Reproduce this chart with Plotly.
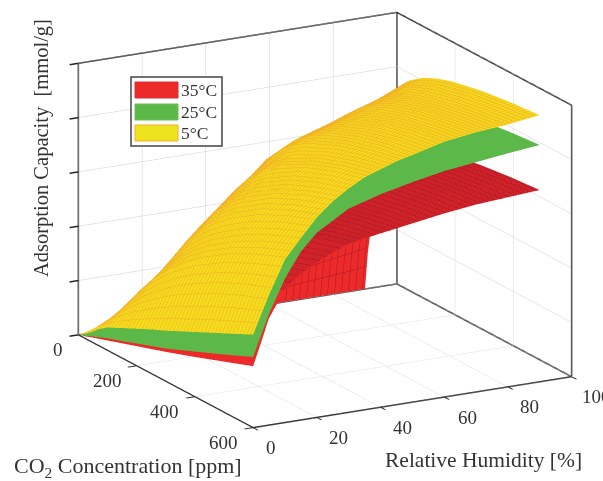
import plotly.graph_objects as go

co2 = [0, 10, 25, 50, 100, 150, 200, 300, 400, 500, 600]
rh = [0, 5, 10, 15, 20, 30, 40, 50, 60, 70, 80, 90]
co2_5c = [0, 10, 25, 50, 75, 100, 150, 200, 250, 300, 400, 500, 600]
rh_5c = [0, 5, 10, 15, 20, 25, 30, 35, 40, 45, 50, 60, 70, 80, 90]

q_5c = [
 [0, .05, .12, .24, .32, .42, .55, .68, .81, .93, 1.19, 1.45, 1.71],
 [0, .082, .20, .383, .552, .708, .986, 1.227, 1.438, 1.624, 1.937, 2.19, 2.4],
 [0, .122, .294, .556, .789, 1.0, 1.364, 1.667, 1.923, 2.143, 2.5, 2.778, 3.0],
 [0, .153, .365, .683, .961, 1.207, 1.622, 1.959, 2.237, 2.471, 2.844, 3.127, 3.35],
 [0, .2, .474, .868, 1.202, 1.488, 1.954, 2.316, 2.605, 2.843, 3.207, 3.474, 3.68],
 [0, .245, .574, 1.034, 1.412, 1.729, 2.228, 2.604, 2.897, 3.132, 3.486, 3.739, 3.93],
 [0, .294, .678, 1.202, 1.618, 1.958, 2.478, 2.858, 3.147, 3.375, 3.71, 3.946, 4.12],
 [0, .36, .82, 1.41, 1.86, 2.21, 2.74, 3.12, 3.4, 3.61, 3.92, 4.13, 4.28],
 [0, .418, .932, 1.582, 2.06, 2.428, 2.955, 3.314, 3.575, 3.774, 4.054, 4.244, 4.38],
 [0, .52, 1.13, 1.85, 2.35, 2.72, 3.22, 3.55, 3.79, 3.96, 4.2, 4.36, 4.48],
 [0, .59, 1.26, 2.02, 2.53, 2.89, 3.38, 3.7, 3.92, 4.08, 4.3, 4.45, 4.55],
 [0, .656, 1.381, 2.187, 2.714, 3.087, 3.578, 3.887, 4.1, 4.255, 4.467, 4.604, 4.7],
 [0, .803, 1.631, 2.485, 3.01, 3.367, 3.818, 4.092, 4.277, 4.41, 4.587, 4.701, 4.78],
 [0, .96, 1.878, 2.757, 3.267, 3.6, 4.008, 4.249, 4.408, 4.521, 4.67, 4.765, 4.83],
 [0, 1.231, 2.268, 3.154, 3.625, 3.918, 4.263, 4.459, 4.585, 4.673, 4.789, 4.861, 4.91],
]
q_25c = [
 [0, .02, .05, .11, .22, .31, .41, .6, .83, 1.06, 1.3],
 [0, .066, .16, .309, .576, .808, 1.013, 1.356, 1.632, 1.86, 2.05],
 [0, .10, .241, .459, .836, 1.151, 1.419, 1.848, 2.178, 2.439, 2.65],
 [0, .13, .312, .589, 1.055, 1.433, 1.746, 2.234, 2.596, 2.877, 3.1],
 [0, .168, .40, .742, 1.293, 1.719, 2.058, 2.564, 2.923, 3.192, 3.4],
 [0, .242, .565, 1.014, 1.684, 2.16, 2.516, 3.012, 3.341, 3.575, 3.75],
 [0, .374, .834, 1.415, 2.173, 2.644, 2.966, 3.377, 3.628, 3.798, 3.92],
 [0, .482, 1.043, 1.702, 2.489, 2.943, 3.238, 3.598, 3.811, 3.95, 4.05],
 [0, .63, 1.306, 2.034, 2.82, 3.237, 3.496, 3.799, 3.971, 4.083, 4.16],
 [0, .741, 1.493, 2.253, 3.024, 3.414, 3.649, 3.918, 4.068, 4.164, 4.23],
 [0, .855, 1.672, 2.455, 3.205, 3.568, 3.783, 4.025, 4.158, 4.242, 4.3],
 [0, .985, 1.866, 2.66, 3.379, 3.713, 3.906, 4.121, 4.237, 4.31, 4.36],
]
q_35c = [
 [0, .02, .04, .09, .18, .27, .36, .54, .73, .93, 1.13],
 [0, .059, .144, .278, .524, .742, .936, 1.269, 1.544, 1.774, 1.97],
 [0, .085, .206, .395, .727, 1.012, 1.258, 1.663, 1.981, 2.238, 2.45],
 [0, .103, .248, .472, .856, 1.177, 1.447, 1.88, 2.21, 2.47, 2.68],
 [0, .128, .306, .572, 1.015, 1.367, 1.654, 2.093, 2.413, 2.658, 2.85],
 [0, .179, .42, .766, 1.299, 1.692, 1.994, 2.427, 2.722, 2.937, 3.1],
 [0, .27, .613, 1.06, 1.668, 2.063, 2.34, 2.704, 2.931, 3.087, 3.2],
 [0, .349, .768, 1.279, 1.919, 2.303, 2.559, 2.879, 3.07, 3.198, 3.29],
 [0, .452, .959, 1.531, 2.182, 2.542, 2.771, 3.046, 3.204, 3.308, 3.38],
 [0, .535, 1.105, 1.712, 2.361, 2.702, 2.913, 3.159, 3.298, 3.388, 3.45],
 [0, .621, 1.246, 1.875, 2.508, 2.826, 3.017, 3.237, 3.359, 3.436, 3.49],
 [0, .714, 1.391, 2.034, 2.646, 2.94, 3.113, 3.309, 3.416, 3.483, 3.53],
]

co2_ticks = [0, 200, 400, 600]
rh_ticks = [0, 20, 40, 60, 80, 100]

SERIF = "Liberation Serif"
INK = "#333333"
GRID = "#cfcfcf"

def surf(x, y, z, col, line=None, xstart=0, xsize=6, ysize=3):
    mesh = line is not None
    return go.Surface(
        x=x, y=y, z=z,
        colorscale=[[0, col], [1, col]], showscale=False, cmin=0, cmax=5,
        lighting=dict(ambient=1, diffuse=0, specular=0, roughness=1, fresnel=0),
        contours=dict(
            x=dict(show=mesh, start=xstart, end=600, size=xsize, color=line or col, width=1),
            y=dict(show=mesh, start=y[0], end=y[-1], size=ysize, color=line or col, width=1),
            z=dict(show=False),
        ),
        hoverinfo="skip",
    )

fig = go.Figure([
    surf(co2, rh[:3], q_35c[:3], "#EC2A2A"),
    surf(co2, rh[2:], q_35c[2:], "#EC2A2A", "#A81828", xstart=6, xsize=6, ysize=2.2),
    surf(co2, rh, q_25c, "#5CB848"),
    surf(co2_5c[:4], rh_5c, [row[:4] for row in q_5c], "#F5C81C"),
    surf(co2_5c[3:], rh_5c, [row[3:] for row in q_5c], "#F5DC1C", "#F0AE28", xstart=50, xsize=12, ysize=1.5),
])

# remaining box edges: rear floor edges, upper rim and verticals
fig.add_trace(go.Scatter3d(
    x=[0, 0, 0, 600, 600, None, 0, 0, None, 0, 600, None, 0, 0],
    y=[0, 0, 100, 100, 100, None, 100, 100, None, 100, 100, None, 0, 100],
    z=[0, 5, 5, 5, 0, None, 0, 5, None, 0, 0, None, 0, 0],
    mode="lines", line=dict(color=INK, width=3), hoverinfo="skip", showlegend=False,
))

def axis(rng, dtick):
    return dict(
        range=rng, dtick=dtick, tick0=0, title=dict(text=""),
        showbackground=False, showgrid=True, gridcolor=GRID, gridwidth=1,
        zeroline=False, showspikes=False,
        showline=True, linecolor=INK, linewidth=3,
        ticks="outside", ticklen=10, tickcolor="#222222", tickwidth=3,
        showticklabels=False,
    )

TICKFONT = dict(family=SERIF, size=19, color=INK)
co2_shift = [-20, -29, -30, -30]
rh_shift = [18, 22, 22, 23, 22, 25]
scene_notes = []
for v, dx in zip(co2_ticks, co2_shift):
    scene_notes.append(dict(x=v, y=0, z=0, text=str(v), showarrow=False, font=TICKFONT, xshift=dx, yshift=-15))
for v, dx in zip(rh_ticks, rh_shift):
    scene_notes.append(dict(x=600, y=v, z=0, text=str(v), showarrow=False, font=TICKFONT, xshift=dx, yshift=-20))

R = 1.25
S = 1.651
fig.update_layout(
    width=603, height=481, margin=dict(l=0, r=0, t=0, b=0),
    paper_bgcolor="white", showlegend=False,
    scene=dict(
        domain=dict(x=[0.078, 1.0], y=[0.0852, 1.0]),
        xaxis=axis([0, 600], 200),
        yaxis=axis([0, 100], 20),
        zaxis=axis([0, 5], 1),
        aspectmode="manual", aspectratio=dict(x=S, y=S, z=0.7815 * S),
        annotations=scene_notes,
        camera=dict(
            projection=dict(type="orthographic"),
            center=dict(x=0, y=0, z=0),
            up=dict(x=0, y=0, z=1),
            eye=dict(x=.8387 * R, y=-.4603 * R, z=.2915 * R),
        ),
    ),
)

def px(x): return x / 603
def py(y): return 1 - y / 481

# legend
fig.add_shape(type="rect", xref="paper", yref="paper", x0=px(131), x1=px(222), y0=py(146), y1=py(77),
              line=dict(color="#444", width=1.5), fillcolor="white")
leg = [("35°C", "#EC2A2A", "#D8303A", 90), ("25°C", "#5CB848", "#6CC050", 112), ("5°C", "#EEE41E", "#F0B030", 133)]
for name, col, edge, yc in leg:
    fig.add_shape(type="rect", xref="paper", yref="paper", x0=px(135), x1=px(178), y0=py(yc + 8), y1=py(yc - 8),
                  line=dict(color=edge, width=1), fillcolor=col)
    fig.add_annotation(x=px(179), y=py(yc), xref="paper", yref="paper", text=name, showarrow=False,
                       xanchor="left", yanchor="middle", font=dict(family=SERIF, size=17.5, color=INK))

titles = [
    ("Relative Humidity [%]", 483, 460, 0, 21.5),
    ("CO<sub>2</sub> Concentration [ppm]", 128, 467, 0, 22),
    ("Adsorption Capacity  [mmol/g]", 41, 148, -90, 20.5),
]
for text, x, y, ang, size in titles:
    fig.add_annotation(x=px(x), y=py(y), xref="paper", yref="paper", text=text, showarrow=False,
                       textangle=ang, xanchor="center", yanchor="middle",
                       font=dict(family=SERIF, size=size, color=INK))

fig.write_html("out.html", config={"displayModeBar": False}, post_script="document.body.style.margin='0';")
